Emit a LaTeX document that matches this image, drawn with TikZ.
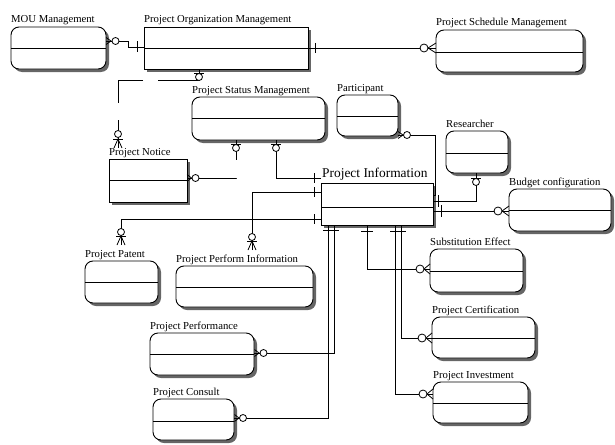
\documentclass[tikz,border=0pt]{standalone}
\usepackage{fontspec}
\setmainfont{Liberation Serif}
\usetikzlibrary{shadows,calc}
\tikzset{
 ent/.style={draw, line width=0.9pt, fill=white, inner sep=0pt, outer sep=0pt,
   drop shadow={shadow xshift=3pt, shadow yshift=-3pt, fill=black!60, opacity=1}},
 entR/.style={ent, rounded corners=8pt},
 lbl/.style={anchor=base west, inner sep=0pt, font=\fontsize{10.7}{12}\selectfont},
 conn/.style={line width=0.8pt},
 sym/.style={line width=0.8pt},
}
\newcommand\entity[8]{%
  \node[#2, anchor=north west, minimum width={#5-#3}, minimum height={#6-#4}] (#1) at (#3,#4) {};
  \draw[line width=0.9pt] (#3,#7) -- (#5,#7);
  \node[lbl] (#1L) at (#3,#4-4) {#8};
}
\newcommand\erbarV[3]{\draw[sym] (#1,#2-#3) -- (#1,#2+#3);}
\newcommand\erbarH[3]{\draw[sym] (#1-#3,#2) -- (#1+#3,#2);}
\newcommand\ercirc[3]{\draw[sym,fill=white] (#1,#2) circle[radius=#3pt];}
\newcommand\crowH[4]{\draw[sym] (#2,#3-#4) -- (#1,#3) -- (#2,#3+#4);}
\newcommand\crowV[4]{\draw[sym] (#1-#4,#3) -- (#1,#2) -- (#1+#4,#3);}
\begin{document}
\begin{tikzpicture}[x=1pt,y=-1pt]
\useasboundingbox (0,0) rectangle (615,444);
% entities
\entity{mou}{entR}{11}{27}{106}{69}{48}{MOU Management}
\entity{pom}{ent}{144}{27}{308}{69}{48}{Project Organization Management}
\entity{psch}{entR}{436}{30}{583}{72}{52}{Project Schedule Management}
\entity{pstm}{entR}{192}{97}{325}{140}{118}{Project Status Management}
\entity{part}{entR}{337}{95}{398}{136}{116}{Participant}
\entity{res}{entR}{446}{131}{508}{173}{153}{Researcher}
\entity{pi}{ent}{321}{183}{433}{225}{207}{}
\node[lbl, font=\fontsize{13.4}{15}\selectfont] (piT) at (322,177) {Project Information};
\entity{bud}{entR}{509}{189}{611}{231}{210}{Budget configuration}
\entity{pn}{ent}{109}{159}{187}{202}{180}{Project Notice}
\entity{ppat}{entR}{85}{261}{158}{303}{282}{Project Patent}
\entity{ppi}{entR}{176}{266}{313}{307}{287}{Project Perform Information}
\entity{sub}{entR}{430}{249}{523}{292}{271}{Substitution Effect}
\entity{pcert}{entR}{432}{317}{535}{358}{338}{Project Certification}
\entity{pinv}{entR}{433}{382}{528}{423}{403}{Project Investment}
\entity{pperf}{entR}{150}{333}{254}{375}{354}{Project Performance}
\entity{pcons}{entR}{153}{399}{234}{440}{421}{Project Consult}
% C1 MOU - POM
\draw[conn] (mou.east |- 0,41) -- (128,41) -- (128,47) -- (pom.west |- 0,47);
\crowH{111}{106}{41}{3.5} \ercirc{115.5}{41}{3.5} \erbarV{137}{47}{5.5}
% C2 POM - Schedule
\draw[conn] (pom.east |- 0,48) -- (psch.west |- 0,48);
\erbarV{315}{48}{5} \crowH{428}{436}{48}{5} \ercirc{424}{48}{4}
% C3 POM - Notice
\draw[conn, dash pattern=on 52pt off 15pt on 48pt off 17pt on 100pt] (pom.south -| 199,0) -- (199,80) -- (118,80) -- ($(pn.north west)+(9,-11)$);
\erbarH{199}{73}{5} \ercirc{199}{77}{3.5}
\crowV{118}{139}{148}{4} \erbarH{118}{139}{5} \ercirc{118}{134}{3.5}
% C4 Status - Notice
\draw[conn, dash pattern=on 20pt off 18pt on 100pt] (pstm.south -| 236,0) -- (236,178) -- (pn.east |- 0,178);
\erbarH{236}{144}{5} \ercirc{236}{148}{3.5}
\crowH{191.5}{187}{178}{3.5} \ercirc{195.5}{178}{3.5}
% C5 Status - PI
\draw[conn] (pstm.south -| 276,0) -- (276,178) -- (pi.west |- 0,178);
\erbarH{276}{144}{5} \ercirc{276}{148}{3.5} \erbarV{314}{178}{5}
% C6 Perform Information - PI
\draw[conn] ($(ppi.north west)+(76,-16)$) -- (252,192) -- (pi.west |- 0,192);
\erbarV{314}{192}{5} \crowV{252}{241}{250}{4} \erbarH{252}{241}{5} \ercirc{252}{237}{3.5}
% C7 Patent - PI
\draw[conn] ($(ppat.north west)+(36,-16)$) -- (121,219) -- (pi.west |- 0,219);
\erbarV{314}{219}{5} \crowV{121}{236}{245}{4} \erbarH{121}{236}{5} \ercirc{121}{232}{3.5}
% C8 Participant - PI
\draw[conn] (part.east |- 0,135) -- (435,135) -- (435,195) -- (pi.east |- 0,195);
\crowH{403}{398}{135}{3.5} \ercirc{407}{135}{3.5}
% C9 Researcher - PI
\draw[conn] (res.south -| 476,0) -- (476,201) -- (pi.east |- 0,201);
\erbarH{476}{178}{5} \ercirc{476}{182}{3.5} \erbarV{438}{201}{6}
% C10 PI - Budget
\draw[conn] (pi.east |- 0,211) -- (bud.west |- 0,211);
\erbarV{441}{211}{6} \crowH{502}{509}{211}{5} \ercirc{498}{211}{4}
% C11 PI - Performance
\draw[conn] (pi.south -| 334,0) -- (334,353) -- (pperf.east |- 0,353);
\erbarH{334}{230}{5} \crowH{259}{254.5}{353}{3.5} \ercirc{263.5}{353}{3.5}
% C12 PI - Consult
\draw[conn] (pi.south -| 328,0) -- (328,418) -- (pcons.east |- 0,418);
\erbarH{328}{230}{5} \crowH{239}{234.5}{418}{3.5} \ercirc{243}{418}{3.5}
% C13 PI - Substitution
\draw[conn] (pi.south -| 367,0) -- (367,269) -- (sub.west |- 0,269);
\erbarH{367}{231}{6} \crowH{424}{430}{269}{5} \ercirc{420}{269}{4}
% C14 PI - Certification
\draw[conn] (pi.south -| 401,0) -- (401,338) -- (pcert.west |- 0,338);
\erbarH{401}{231}{5} \crowH{426}{432}{338}{5} \ercirc{422}{338}{4}
% C15 PI - Investment
\draw[conn] (pi.south -| 395,0) -- (395,394) -- (pinv.west |- 0,394);
\erbarH{395}{231}{5} \crowH{427}{433}{394}{5} \ercirc{423}{394}{4}
\end{tikzpicture}
\end{document}
